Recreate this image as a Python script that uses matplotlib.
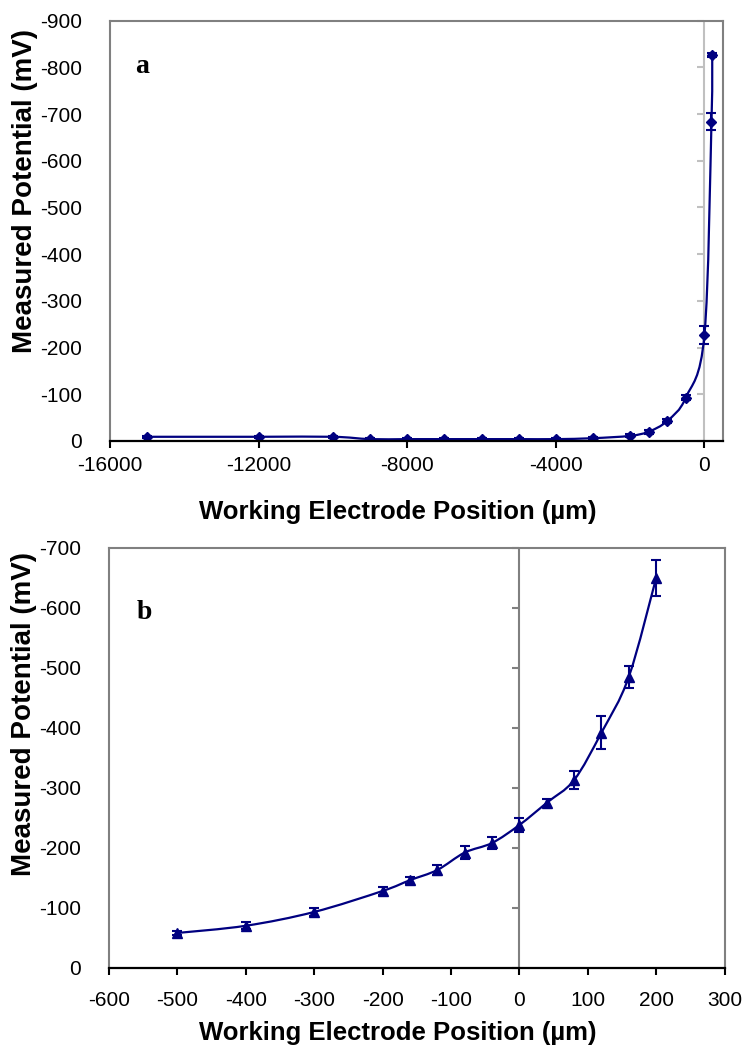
import numpy as np
import matplotlib
matplotlib.use("Agg")
import matplotlib.pyplot as plt
from matplotlib.path import Path
from matplotlib.patches import PathPatch

plt.rcParams['font.family'] = ['Liberation Sans', 'DejaVu Sans']
plt.rcParams['axes.unicode_minus'] = False

NAVY = '#000080'

# panel a: full scan (um, mV)
pos_a = [-15000, -12000, -10000, -9000, -8000, -7000, -6000, -5000, -4000,
         -3000, -2000, -1500, -1000, -500, 0, 190, 210]
pot_a = [-9, -9, -9, -4, -4, -4, -4, -4, -4,
         -6, -11, -20, -43, -93, -227, -684, -827]
err_a = [2, 2, 2, 2, 2, 2, 2, 2, 2, 2, 3, 4, 4, 6, 20, 19, 4]

# panel b: close-up near the electrode
pos_b = [-500, -400, -300, -200, -160, -120, -80, -40, 0, 40, 80, 120, 160, 200]
pot_b = [-58, -70, -93, -128, -146, -163, -192, -208, -238, -275, -313, -392, -485, -650]
err_b = [4, 6, 6, 6, 6, 8, 11, 10, 11, 7, 15, 28, 18, 30]

xticks_a = [-16000, -12000, -8000, -4000, 0]
yticks_a = list(range(0, -1000, -100))
xticks_b = list(range(-600, 400, 100))
yticks_b = list(range(0, -800, -100))


# excel style smoothed line (catmull-rom as bezier)
def smooth_path(x, y):
    pts = np.column_stack([x, y]).astype(float)
    p = np.vstack([pts[0], pts, pts[-1]])
    verts = [pts[0]]
    codes = [Path.MOVETO]
    for i in range(1, len(p) - 2):
        p0, p1, p2, p3 = p[i - 1], p[i], p[i + 1], p[i + 2]
        verts += [p1 + (p2 - p0) / 6, p2 - (p3 - p1) / 6, p2]
        codes += [Path.CURVE4] * 3
    return Path(verts, codes)


def style_axes(ax, xlim, ylim, xticks, yticks, zero_color, letter, letter_xy,
               ylab_y, xpad):
    ax.set_xlim(*xlim)
    ax.set_ylim(*ylim)
    ax.set_xticks(xticks)
    ax.set_yticks(yticks)
    for s in ['top', 'right', 'left']:
        ax.spines[s].set_color('#808080')
        ax.spines[s].set_linewidth(1.5)
    ax.spines['bottom'].set_color('black')
    ax.spines['bottom'].set_linewidth(1.6)
    ax.spines['bottom'].set_zorder(5)
    ax.tick_params(axis='x', direction='out', length=5, width=1.5, color='black',
                   labelsize=15, pad=xpad)
    ax.tick_params(axis='y', length=0, labelsize=15, pad=20)

    # vertical axis crossing at x = 0
    ax.axvline(0, color=zero_color, lw=1.5, zorder=1)
    ax.plot([0] * len(yticks), yticks, ls='none', marker=0, ms=5, mew=1.5,
            color=zero_color, zorder=1, clip_on=False)

    ax.set_xlabel('Working Electrode Position (µm)', fontsize=18.5, fontweight='bold')
    ax.set_ylabel('Measured Potential (mV)', fontsize=20, fontweight='bold')
    ax.yaxis.set_label_coords(-0.117, ylab_y)
    ax.text(letter_xy[0], letter_xy[1], letter, transform=ax.transAxes,
            fontsize=20, fontweight='bold', family='Liberation Serif',
            ha='left', va='baseline')


fig = plt.figure(figsize=(7.5, 10.55), dpi=100)
ax1 = fig.add_axes([0.1467, 0.582, 0.8173, 0.3984])
ax2 = fig.add_axes([0.1453, 0.0827, 0.8208, 0.398])

# panel a
ax1.add_patch(PathPatch(smooth_path(pos_a, pot_a), fc='none', ec=NAVY, lw=1.6, zorder=3))
ax1.errorbar(pos_a, pot_a, yerr=err_a, fmt='none', ecolor=NAVY, elinewidth=1.5,
             capsize=3.5, capthick=1.5, zorder=4)
ax1.plot(pos_a, pot_a, ls='none', marker='D', ms=5, color=NAVY, zorder=4)
style_axes(ax1, (-16000, 500), (0, -900), xticks_a, yticks_a, '#c0c0c0',
           'a', (0.041, 0.875), 0.595, 6)
ax1.xaxis.set_label_coords(0.469, -0.14)

# panel b
ax2.add_patch(PathPatch(smooth_path(pos_b, pot_b), fc='none', ec=NAVY, lw=1.6, zorder=3))
ax2.errorbar(pos_b, pot_b, yerr=err_b, fmt='none', ecolor=NAVY, elinewidth=1.5,
             capsize=3.5, capthick=1.5, zorder=4)
ax2.plot(pos_b, pot_b, ls='none', marker='^', ms=7, color=NAVY, zorder=4)
style_axes(ax2, (-600, 300), (0, -700), xticks_b, yticks_b, '#808080',
           'b', (0.045, 0.83), 0.605, 12)
ax2.xaxis.set_label_coords(0.469, -0.128)

fig.savefig('out.png', dpi=100)
